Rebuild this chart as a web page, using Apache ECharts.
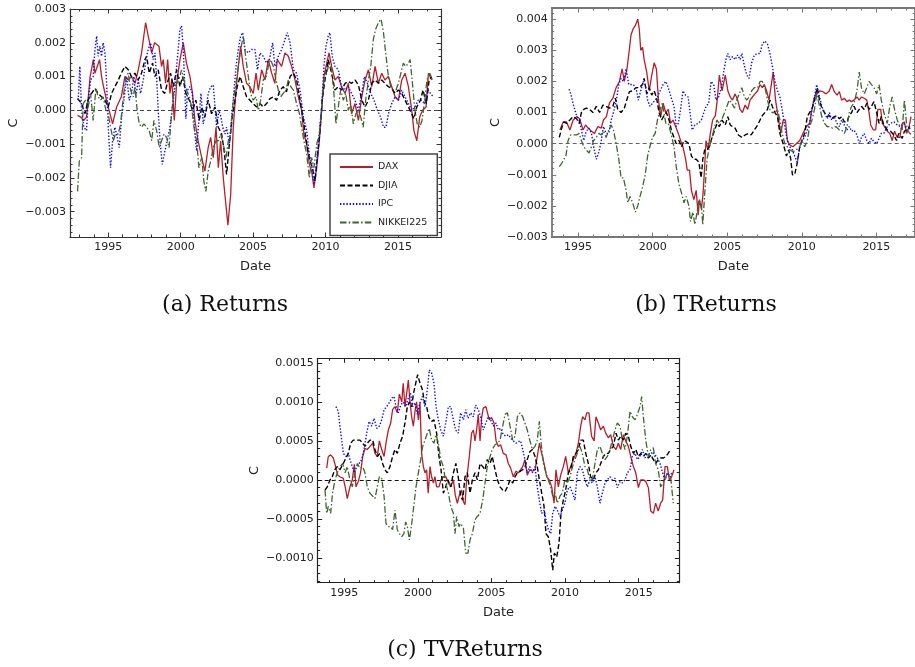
<!DOCTYPE html>
<html>
<head>
<meta charset="utf-8">
<script src="https://cdn.jsdelivr.net/npm/echarts@6/dist/echarts.min.js"></script>
<style>
html,body{margin:0;padding:0;background:#fff;}
#chart{width:915px;height:667px;}
</style>
</head>
<body>
<div id="chart"></div>
<script>
// ---------- DATA ----------
const seriesNames = ['DAX', 'DJIA', 'IPC', 'NIKKEI225'];
const xMajorTicks = [1995, 2000, 2005, 2010, 2015];
const yTicksA = [-0.003, -0.002, -0.001, 0, 0.001, 0.002, 0.003];
const yTicksB = [-0.003, -0.002, -0.001, 0, 0.001, 0.002, 0.003, 0.004];
const yTicksC = [-0.001, -0.0005, 0, 0.0005, 0.001, 0.0015];
const captions = ['(a) Returns', '(b) TReturns', '(c) TVReturns'];

// (a) Returns
const aDAX = [[1992.88,-0.00015],[1993.1,-0.0002],[1993.3,-0.0003],[1993.5,-0.0002],[1993.75,0.001],[1993.97,0.0015],[1994.08,0.0011],[1994.4,0.0015],[1994.54,0.001],[1994.65,0.00075],[1994.88,0.0003],[1995.3,-0.0004],[1995.58,0.0001],[1995.9,0.0004],[1996.15,0.001],[1996.38,0.0009],[1996.6,0.001],[1996.85,0.0008],[1997.07,0.0012],[1997.3,0.0017],[1997.58,0.0026],[1997.76,0.0022],[1998.0,0.0017],[1998.2,0.002],[1998.5,0.0019],[1998.68,0.0013],[1998.8,0.0015],[1998.96,0.0008],[1999.1,0.0015],[1999.26,0.0005],[1999.38,0.0009],[1999.56,-0.0003],[1999.72,0.0008],[1999.95,0.0015],[2000.18,0.002],[2000.4,0.0014],[2000.64,0.001],[2000.82,0.0005],[2000.98,-0.0003],[2001.2,-0.0009],[2001.45,-0.0014],[2001.67,-0.0018],[2001.9,-0.0011],[2002.07,-0.0008],[2002.25,-0.0014],[2002.44,-0.0005],[2002.6,-0.0017],[2002.76,-0.0009],[2002.94,-0.002],[2003.1,-0.0027],[2003.26,-0.0034],[2003.45,-0.0025],[2003.63,-0.0005],[2003.82,0.0006],[2003.98,0.0013],[2004.14,0.0019],[2004.32,0.0013],[2004.55,0.0008],[2004.78,0.0007],[2005.01,0.0005],[2005.2,0.0011],[2005.36,0.0006],[2005.59,0.0012],[2005.82,0.0009],[2006.05,0.0015],[2006.28,0.0011],[2006.5,0.0008],[2006.67,0.0015],[2006.97,0.0013],[2007.2,0.0017],[2007.43,0.0016],[2007.66,0.0013],[2007.89,0.0009],[2008.12,0.0004],[2008.35,0.0],[2008.5,-0.0007],[2008.7,-0.001],[2008.88,-0.0016],[2009.04,-0.0018],[2009.2,-0.0023],[2009.39,-0.0017],[2009.57,-0.0009],[2009.73,0.0],[2009.89,0.001],[2010.08,0.0014],[2010.24,0.0017],[2010.42,0.0013],[2010.65,0.0009],[2010.88,0.001],[2011.1,0.0007],[2011.35,0.0005],[2011.57,0.0008],[2011.8,-0.0001],[2012.03,0.0002],[2012.27,-0.0003],[2012.5,0.0004],[2012.73,0.0009],[2012.96,0.0012],[2013.19,0.0007],[2013.42,0.0013],[2013.65,0.0008],[2013.88,0.0011],[2014.1,0.0009],[2014.34,0.001],[2014.57,0.0007],[2014.8,0.0004],[2015.03,0.0003],[2015.26,0.0009],[2015.49,0.0011],[2015.72,0.0007],[2015.95,0.0],[2016.1,-0.0006],[2016.3,-0.0009],[2016.5,-0.0002],[2016.7,0.0],[2016.94,0.0001],[2017.1,0.0011],[2017.33,0.0009]];
const aDJIA = [[1992.88,0.00035],[1993.16,0.0002],[1993.4,-0.0001],[1993.6,0.0003],[1993.85,0.0005],[1994.08,0.00065],[1994.3,0.0005],[1994.54,0.0004],[1994.77,0.0003],[1995.0,0.0001],[1995.23,0.0005],[1995.46,0.0007],[1995.7,0.0009],[1995.9,0.0011],[1996.15,0.0013],[1996.38,0.0012],[1996.6,0.001],[1996.84,0.0011],[1997.07,0.0009],[1997.3,0.0011],[1997.53,0.0015],[1997.65,0.0016],[1997.83,0.0011],[1998.06,0.0014],[1998.22,0.001],[1998.45,0.0012],[1998.68,0.0006],[1998.9,0.0005],[1999.14,0.0009],[1999.3,0.0011],[1999.5,0.0007],[1999.72,0.0012],[1999.95,0.0007],[2000.13,0.001],[2000.36,0.0005],[2000.6,0.0003],[2000.82,0.0],[2001.05,0.0003],[2001.28,-0.0003],[2001.45,0.0001],[2001.67,-0.0002],[2001.9,0.0003],[2002.13,-0.0001],[2002.37,0.0001],[2002.6,-0.0005],[2002.83,-0.0007],[2003.0,-0.0012],[2003.17,-0.0019],[2003.36,-0.001],[2003.56,-0.0002],[2003.75,0.0003],[2003.9,0.0007],[2004.1,0.001],[2004.32,0.0007],[2004.55,0.0004],[2004.78,0.0003],[2005.0,0.0002],[2005.24,0.0001],[2005.47,0.0002],[2005.7,0.0001],[2005.93,0.0002],[2006.16,0.00035],[2006.4,0.0004],[2006.62,0.0003],[2006.85,0.0006],[2007.08,0.0007],[2007.3,0.00055],[2007.55,0.001],[2007.78,0.0011],[2008.0,0.0009],[2008.24,0.0003],[2008.47,-0.0003],[2008.7,-0.001],[2008.93,-0.0015],[2009.1,-0.0017],[2009.27,-0.0021],[2009.43,-0.0014],[2009.6,-0.0007],[2009.77,0.0003],[2009.96,0.0009],[2010.19,0.0015],[2010.42,0.0011],[2010.65,0.0006],[2010.88,0.0007],[2011.1,0.0006],[2011.35,0.0008],[2011.57,0.00085],[2011.8,0.0008],[2012.03,0.0009],[2012.27,0.00075],[2012.5,0.0003],[2012.73,0.0001],[2012.96,0.0003],[2013.19,0.0008],[2013.42,0.0009],[2013.65,0.0008],[2013.88,0.0009],[2014.1,0.0008],[2014.34,0.0007],[2014.57,0.00065],[2014.8,0.0005],[2015.03,0.0006],[2015.26,0.0005],[2015.49,0.0003],[2015.72,0.0001],[2015.95,-0.0001],[2016.1,-0.00025],[2016.3,0.0001],[2016.55,0.0003],[2016.73,0.0006],[2016.96,0.0002],[2017.15,0.0009],[2017.33,0.001]];
const aIPC = [[1992.93,0.0003],[1993.04,0.0013],[1993.16,0.0],[1993.32,-0.0005],[1993.5,-0.0006],[1993.62,0.0003],[1993.78,0.0009],[1993.96,0.001],[1994.08,0.0018],[1994.2,0.0022],[1994.3,0.0016],[1994.42,0.0019],[1994.54,0.0016],[1994.65,0.002],[1994.77,0.0017],[1994.88,0.0009],[1995.0,-0.0005],[1995.16,-0.0017],[1995.3,-0.0009],[1995.46,-0.0005],[1995.62,-0.0008],[1995.76,-0.0011],[1995.92,-0.0002],[1996.08,0.0003],[1996.27,0.001],[1996.45,0.0003],[1996.6,0.0005],[1996.77,0.001],[1996.91,0.0004],[1997.07,0.0009],[1997.23,0.0005],[1997.42,0.0009],[1997.6,0.0015],[1997.76,0.0018],[1997.92,0.002],[1998.1,0.0015],[1998.22,0.0017],[1998.34,0.001],[1998.45,0.0],[1998.57,-0.0009],[1998.73,-0.0016],[1998.91,-0.0012],[1999.07,-0.0009],[1999.26,-0.0005],[1999.44,0.0001],[1999.6,0.0007],[1999.72,0.0013],[1999.83,0.0018],[1999.95,0.0024],[2000.06,0.0025],[2000.18,0.0018],[2000.3,0.0005],[2000.36,-0.00025],[2000.48,0.0006],[2000.64,0.0007],[2000.8,0.0005],[2000.94,-0.0005],[2001.1,-0.0012],[2001.22,-0.0005],[2001.4,0.0005],[2001.56,-0.0004],[2001.74,0.0],[2001.9,0.0005],[2002.07,0.0007],[2002.25,0.00075],[2002.37,0.0001],[2002.48,-0.0005],[2002.64,0.0],[2002.78,-0.0002],[2002.9,-0.0005],[2003.06,-0.0007],[2003.17,-0.0005],[2003.36,-0.001],[2003.52,-0.0002],[2003.63,0.0003],[2003.82,0.0013],[2003.98,0.0018],[2004.14,0.0022],[2004.28,0.0023],[2004.44,0.0018],[2004.67,0.0017],[2004.9,0.0018],[2005.13,0.0018],[2005.3,0.0012],[2005.47,0.0017],[2005.7,0.0016],[2005.93,0.0014],[2006.12,0.0015],[2006.35,0.002],[2006.5,0.0013],[2006.74,0.0016],[2006.97,0.0018],[2007.2,0.0021],[2007.36,0.0023],[2007.55,0.002],[2007.78,0.0012],[2008.0,0.0011],[2008.24,0.0006],[2008.47,-0.0002],[2008.7,-0.0006],[2008.88,-0.0013],[2009.04,-0.0016],[2009.2,-0.0022],[2009.39,-0.0015],[2009.57,-0.0007],[2009.73,0.0001],[2009.89,0.0013],[2010.03,0.0019],[2010.19,0.0022],[2010.3,0.0023],[2010.46,0.0016],[2010.65,0.0013],[2010.88,0.0012],[2011.1,0.0007],[2011.35,0.0006],[2011.57,0.0007],[2011.8,0.0005],[2012.03,0.0003],[2012.27,0.0],[2012.5,0.0005],[2012.68,0.001],[2012.89,0.0008],[2013.12,0.0005],[2013.35,0.0003],[2013.58,0.0],[2013.8,-0.0002],[2014.0,-0.0005],[2014.17,-0.0005],[2014.34,-0.0001],[2014.57,0.0002],[2014.8,0.0004],[2015.03,0.0003],[2015.26,0.0006],[2015.49,0.0004],[2015.72,0.0002],[2015.95,0.0],[2016.17,0.0001],[2016.4,0.0003],[2016.62,0.0003],[2016.85,0.0002],[2017.08,0.0006],[2017.24,0.0005],[2017.44,0.0004]];
const aNIKKEI = [[1992.88,-0.0024],[1993.0,-0.0015],[1993.16,-0.0014],[1993.27,0.0002],[1993.43,0.0003],[1993.62,0.0001],[1993.78,0.0005],[1993.96,-0.0003],[1994.15,0.00065],[1994.3,0.0004],[1994.47,0.0003],[1994.65,0.0004],[1994.84,0.0],[1995.0,-0.0001],[1995.16,-0.0005],[1995.35,-0.0009],[1995.5,-0.0007],[1995.7,-0.0007],[1995.85,-0.0004],[1996.04,0.0004],[1996.22,0.001],[1996.38,0.0011],[1996.54,0.0006],[1996.73,0.0004],[1996.84,0.0007],[1997.0,0.0],[1997.14,-0.0004],[1997.3,-0.0005],[1997.46,-0.0004],[1997.65,-0.0005],[1997.83,-0.0006],[1998.0,-0.0009],[1998.15,-0.0003],[1998.34,-0.0006],[1998.52,-0.0011],[1998.68,-0.0009],[1998.85,-0.0007],[1999.03,-0.0008],[1999.2,-0.0011],[1999.37,-0.0001],[1999.53,0.0006],[1999.72,0.0008],[1999.88,0.0009],[2000.06,0.0012],[2000.23,0.0009],[2000.4,0.0006],[2000.6,0.0004],[2000.75,0.0001],[2000.92,-0.0005],[2001.1,-0.0009],[2001.26,-0.0017],[2001.45,-0.0014],[2001.6,-0.0021],[2001.74,-0.0024],[2001.9,-0.0018],[2002.07,-0.0015],[2002.25,-0.0011],[2002.44,-0.0009],[2002.6,-0.0009],[2002.76,-0.0007],[2002.94,-0.001],[2003.13,-0.0014],[2003.29,-0.0009],[2003.45,-0.0007],[2003.63,0.0003],[2003.82,0.0008],[2003.98,0.0013],[2004.14,0.0018],[2004.32,0.0022],[2004.51,0.0015],[2004.67,0.001],[2004.83,0.0005],[2005.0,0.0003],[2005.2,0.0004],[2005.36,0.0],[2005.52,0.0003],[2005.7,0.0009],[2005.9,0.001],[2006.05,0.0013],[2006.2,0.0015],[2006.4,0.0013],[2006.58,0.0009],[2006.74,0.0006],[2006.9,0.0004],[2007.08,0.0005],[2007.27,0.0006],[2007.43,0.0009],[2007.6,0.0007],[2007.78,0.0006],[2008.0,0.0002],[2008.2,-0.0001],[2008.35,-0.0005],[2008.5,-0.0009],[2008.7,-0.0013],[2008.88,-0.002],[2009.04,-0.0014],[2009.2,-0.0017],[2009.39,-0.001],[2009.57,-0.0007],[2009.73,0.0],[2009.89,0.0009],[2010.08,0.0011],[2010.24,0.0014],[2010.42,0.0012],[2010.58,0.0005],[2010.72,-0.0004],[2010.88,0.0001],[2011.04,0.0006],[2011.23,0.0003],[2011.39,0.0005],[2011.57,0.0],[2011.73,0.0002],[2011.92,-0.0004],[2012.1,-0.0001],[2012.27,0.0],[2012.43,-0.0002],[2012.6,-0.0005],[2012.77,0.0003],[2012.96,0.0009],[2013.12,0.0013],[2013.3,0.0021],[2013.46,0.0024],[2013.65,0.0026],[2013.83,0.0027],[2014.0,0.0023],[2014.15,0.0017],[2014.34,0.001],[2014.5,0.0007],[2014.68,0.0006],[2014.86,0.0006],[2015.03,0.0008],[2015.2,0.0011],[2015.37,0.0014],[2015.54,0.0013],[2015.72,0.0014],[2015.84,0.0015],[2016.0,0.0008],[2016.17,0.0],[2016.33,-0.0004],[2016.5,-0.0005],[2016.66,-0.0003],[2016.85,0.0003],[2017.0,0.0009],[2017.2,0.0011],[2017.38,0.0009]];

// (b) TReturns
const bDAX = [[1993.78,0.00044],[1994.0,0.0007],[1994.22,0.0007],[1994.45,0.00044],[1994.67,0.00076],[1994.9,0.00087],[1995.11,0.0008],[1995.33,0.00044],[1995.5,0.0006],[1995.67,0.0005],[1995.9,0.0004],[1996.1,0.00033],[1996.33,0.00055],[1996.55,0.0005],[1996.7,0.00076],[1996.9,0.00087],[1997.1,0.0013],[1997.33,0.00146],[1997.55,0.0018],[1997.77,0.002],[1997.95,0.0024],[1998.1,0.002],[1998.28,0.0024],[1998.43,0.003],[1998.55,0.0035],[1998.7,0.0037],[1998.84,0.0038],[1999.0,0.004],[1999.1,0.0037],[1999.2,0.003],[1999.32,0.0031],[1999.43,0.0027],[1999.6,0.0023],[1999.77,0.0017],[1999.94,0.0022],[2000.1,0.0026],[2000.25,0.0024],[2000.39,0.0014],[2000.54,0.00087],[2000.7,0.0013],[2000.88,0.001],[2001.05,0.0011],[2001.2,0.00065],[2001.36,0.00076],[2001.54,0.00055],[2001.72,0.00033],[2001.87,0.0001],[2002.03,-0.0001],[2002.2,-0.00047],[2002.32,-0.00085],[2002.47,-0.00085],[2002.6,-0.0015],[2002.76,-0.0018],[2002.92,-0.0015],[2003.05,-0.0023],[2003.14,-0.0018],[2003.27,-0.0021],[2003.38,-0.0016],[2003.49,-0.0007],[2003.58,0.0001],[2003.71,-0.0002],[2003.87,0.00033],[2004.02,0.00076],[2004.2,0.0009],[2004.31,0.0013],[2004.47,0.0022],[2004.65,0.0017],[2004.87,0.0022],[2005.04,0.0017],[2005.2,0.0015],[2005.35,0.0014],[2005.53,0.0016],[2005.7,0.0014],[2005.86,0.0011],[2006.02,0.001],[2006.2,0.00124],[2006.37,0.0011],[2006.53,0.0014],[2006.69,0.0015],[2006.86,0.0016],[2007.04,0.0017],[2007.2,0.0019],[2007.35,0.0018],[2007.48,0.0019],[2007.64,0.0017],[2007.8,0.0014],[2007.93,0.0014],[2008.08,0.0023],[2008.24,0.0014],[2008.41,0.00087],[2008.59,0.00033],[2008.75,0.00076],[2008.9,0.00076],[2009.03,0.0001],[2009.19,-0.00004],[2009.41,-0.0001],[2009.63,0.0],[2009.86,0.0001],[2010.08,0.00033],[2010.3,0.00055],[2010.52,0.00065],[2010.68,0.0011],[2010.85,0.0015],[2011.03,0.0016],[2011.19,0.0017],[2011.41,0.00167],[2011.63,0.0016],[2011.85,0.0017],[2012.0,0.0019],[2012.18,0.00167],[2012.36,0.00156],[2012.52,0.00167],[2012.67,0.0014],[2012.85,0.00146],[2013.03,0.00135],[2013.18,0.0014],[2013.34,0.00135],[2013.5,0.0014],[2013.7,0.0015],[2013.85,0.0014],[2014.0,0.0015],[2014.18,0.00146],[2014.36,0.0014],[2014.51,0.001],[2014.62,0.0006],[2014.8,0.00044],[2014.95,0.00044],[2015.1,0.0011],[2015.29,0.0011],[2015.4,0.00065],[2015.55,0.00055],[2015.73,0.0004],[2015.9,0.00033],[2016.06,0.0001],[2016.22,0.0004],[2016.4,0.0002],[2016.57,0.0002],[2016.73,0.00065],[2016.88,0.0007],[2017.02,0.00033],[2017.17,0.0005],[2017.33,0.00087]];
const bDJIA = [[1993.74,0.0002],[1993.9,0.0005],[1994.05,0.0007],[1994.22,0.00065],[1994.45,0.00076],[1994.67,0.00087],[1994.9,0.0008],[1995.07,0.00065],[1995.22,0.001],[1995.38,0.0011],[1995.55,0.00114],[1995.78,0.0011],[1996.0,0.001],[1996.22,0.0012],[1996.44,0.001],[1996.66,0.00124],[1996.88,0.0012],[1997.1,0.00114],[1997.33,0.0012],[1997.5,0.00146],[1997.66,0.0011],[1997.88,0.001],[1998.1,0.00114],[1998.26,0.0014],[1998.44,0.00167],[1998.66,0.0017],[1998.88,0.0018],[1999.1,0.0018],[1999.32,0.0019],[1999.43,0.0021],[1999.6,0.0016],[1999.77,0.0018],[1999.94,0.00156],[2000.1,0.0017],[2000.25,0.0015],[2000.43,0.001],[2000.6,0.00076],[2000.76,0.0009],[2000.92,0.001],[2001.1,0.00076],[2001.25,0.00044],[2001.43,0.0002],[2001.58,0.0],[2001.76,0.0001],[2001.94,-0.0001],[2002.1,0.0001],[2002.27,0.00006],[2002.43,0.0],[2002.6,-0.0004],[2002.76,-0.0005],[2002.92,-0.0005],[2003.1,-0.0006],[2003.25,-0.0011],[2003.36,-0.0005],[2003.49,-0.0002],[2003.65,-0.0002],[2003.8,-0.0001],[2003.98,0.0002],[2004.16,0.00044],[2004.31,0.00065],[2004.47,0.00055],[2004.65,0.00076],[2004.87,0.0006],[2005.04,0.00087],[2005.2,0.0006],[2005.35,0.00055],[2005.53,0.0005],[2005.75,0.00028],[2005.98,0.0002],[2006.2,0.00028],[2006.42,0.00033],[2006.6,0.00028],[2006.82,0.00044],[2007.04,0.0006],[2007.2,0.00076],[2007.35,0.0009],[2007.53,0.001],[2007.7,0.0011],[2007.86,0.0014],[2008.02,0.0012],[2008.2,0.001],[2008.37,0.00087],[2008.53,0.00033],[2008.68,0.0001],[2008.81,-0.0001],[2008.97,-0.0004],[2009.12,-0.0002],[2009.26,-0.0005],[2009.37,-0.001],[2009.52,-0.001],[2009.7,-0.0006],[2009.86,-0.0001],[2010.01,0.0001],[2010.19,0.00033],[2010.37,0.00087],[2010.52,0.001],[2010.68,0.0011],[2010.85,0.0014],[2011.03,0.0018],[2011.19,0.0014],[2011.34,0.00114],[2011.52,0.001],[2011.7,0.00087],[2011.85,0.0009],[2012.0,0.0008],[2012.18,0.00087],[2012.36,0.0009],[2012.52,0.0008],[2012.67,0.00087],[2012.85,0.0007],[2013.03,0.0007],[2013.18,0.0009],[2013.34,0.001],[2013.5,0.0012],[2013.7,0.001],[2013.85,0.0011],[2014.0,0.0012],[2014.18,0.0011],[2014.36,0.0013],[2014.51,0.0011],[2014.67,0.0012],[2014.84,0.00135],[2015.02,0.001],[2015.18,0.00065],[2015.33,0.00087],[2015.5,0.0006],[2015.73,0.00044],[2015.95,0.0004],[2016.18,0.00028],[2016.35,0.0001],[2016.5,0.00033],[2016.73,0.00017],[2016.88,0.0004],[2017.06,0.00044],[2017.24,0.00055]];
const bIPC = [[1994.4,0.00175],[1994.56,0.0015],[1994.71,0.0012],[1994.9,0.0009],[1995.07,0.00076],[1995.22,0.00044],[1995.38,0.0001],[1995.55,0.0004],[1995.73,0.0005],[1995.9,0.00033],[1996.04,-0.0001],[1996.22,-0.0005],[1996.4,-0.00026],[1996.55,0.0001],[1996.7,0.00055],[1996.88,0.00033],[1997.06,0.00033],[1997.22,0.00076],[1997.37,0.001],[1997.55,0.00135],[1997.73,0.0019],[1997.88,0.0021],[1998.04,0.002],[1998.22,0.0024],[1998.4,0.0019],[1998.55,0.0019],[1998.7,0.0019],[1998.88,0.0018],[1999.04,0.0014],[1999.2,0.0017],[1999.37,0.002],[1999.5,0.0019],[1999.66,0.0014],[1999.81,0.0012],[1999.99,0.0013],[2000.17,0.0014],[2000.32,0.0015],[2000.5,0.0017],[2000.7,0.0019],[2000.88,0.002],[2001.05,0.0018],[2001.23,0.0015],[2001.43,0.0012],[2001.58,0.00055],[2001.72,0.00065],[2001.87,0.0011],[2002.03,0.0017],[2002.2,0.00156],[2002.38,0.0015],[2002.54,0.00087],[2002.65,0.00044],[2002.83,0.0006],[2003.05,0.00065],[2003.27,0.00076],[2003.43,0.001],[2003.58,0.0012],[2003.76,0.0013],[2003.91,0.002],[2004.09,0.0019],[2004.25,0.0014],[2004.42,0.0015],[2004.6,0.0018],[2004.76,0.0023],[2004.91,0.0027],[2005.04,0.0029],[2005.2,0.0027],[2005.35,0.0028],[2005.53,0.0027],[2005.7,0.00285],[2005.86,0.0027],[2005.98,0.0029],[2006.15,0.0025],[2006.31,0.0022],[2006.46,0.0021],[2006.64,0.0026],[2006.82,0.00285],[2007.04,0.0029],[2007.2,0.0029],[2007.35,0.0032],[2007.53,0.0033],[2007.7,0.0032],[2007.86,0.0029],[2008.02,0.0025],[2008.2,0.002],[2008.37,0.0017],[2008.53,0.0015],[2008.68,0.0011],[2008.86,0.00055],[2009.03,0.0001],[2009.19,-0.0001],[2009.37,-0.0002],[2009.52,-0.0004],[2009.7,-0.0006],[2009.86,-0.0001],[2010.01,0.0001],[2010.19,0.0002],[2010.37,0.00044],[2010.52,0.00065],[2010.68,0.0011],[2010.85,0.0015],[2011.0,0.0019],[2011.19,0.0015],[2011.34,0.0012],[2011.52,0.001],[2011.7,0.0008],[2011.85,0.001],[2012.0,0.00076],[2012.18,0.00087],[2012.36,0.00065],[2012.52,0.00055],[2012.67,0.00076],[2012.85,0.0006],[2013.03,0.00044],[2013.18,0.00055],[2013.34,0.0004],[2013.5,0.00044],[2013.7,0.00028],[2013.85,0.0],[2014.0,0.0002],[2014.18,0.00033],[2014.36,0.0001],[2014.51,0.0],[2014.67,0.00017],[2014.84,0.00006],[2015.02,0.0],[2015.18,0.00017],[2015.33,0.00033],[2015.5,0.00033],[2015.73,0.00055],[2015.95,0.00065],[2016.18,0.0007],[2016.4,0.0006],[2016.62,0.00055],[2016.84,0.00065],[2017.06,0.00044],[2017.28,0.0005]];
const bNIKKEI = [[1993.74,-0.00074],[1993.9,-0.00063],[1994.05,-0.0005],[1994.18,-0.0004],[1994.33,0.0001],[1994.5,0.00028],[1994.67,0.00028],[1994.9,0.00028],[1995.07,0.00033],[1995.22,0.0001],[1995.38,-0.0001],[1995.55,-0.0002],[1995.73,-0.0003],[1995.9,-0.0001],[1996.04,0.0001],[1996.22,0.0002],[1996.4,0.00033],[1996.55,0.00028],[1996.7,0.0004],[1996.88,0.0002],[1997.06,0.00044],[1997.22,0.0006],[1997.37,0.00044],[1997.55,0.0],[1997.73,-0.0005],[1997.88,-0.0011],[1998.04,-0.0011],[1998.22,-0.0015],[1998.33,-0.0019],[1998.48,-0.0017],[1998.66,-0.0019],[1998.84,-0.0022],[1999.0,-0.002],[1999.15,-0.0017],[1999.32,-0.0014],[1999.5,-0.001],[1999.66,-0.0004],[1999.81,-0.0001],[1999.99,0.0002],[2000.17,0.00033],[2000.32,0.00076],[2000.5,0.0011],[2000.65,0.0013],[2000.76,0.001],[2000.88,0.00065],[2001.05,0.00065],[2001.23,0.00033],[2001.43,-0.0001],[2001.58,-0.00074],[2001.76,-0.0013],[2001.94,-0.0016],[2002.1,-0.0019],[2002.25,-0.0017],[2002.43,-0.002],[2002.54,-0.0025],[2002.7,-0.0022],[2002.83,-0.0026],[2002.98,-0.0022],[2003.1,-0.0018],[2003.27,-0.002],[2003.36,-0.0026],[2003.49,-0.0016],[2003.65,-0.0005],[2003.8,-0.0001],[2003.98,0.0002],[2004.16,0.00055],[2004.31,0.00076],[2004.47,0.00065],[2004.65,0.0008],[2004.82,0.001],[2004.98,0.0012],[2005.13,0.0014],[2005.31,0.0013],[2005.49,0.00114],[2005.64,0.0014],[2005.8,0.0016],[2005.98,0.0018],[2006.15,0.0015],[2006.31,0.0014],[2006.46,0.0015],[2006.64,0.0017],[2006.82,0.0018],[2007.04,0.0018],[2007.2,0.002],[2007.35,0.002],[2007.53,0.0018],[2007.7,0.0014],[2007.86,0.0011],[2008.02,0.001],[2008.2,0.001],[2008.37,0.0011],[2008.53,0.00076],[2008.68,0.00033],[2008.86,0.0],[2009.03,-0.0001],[2009.19,-0.0002],[2009.41,-0.00026],[2009.63,-0.0002],[2009.86,-0.0001],[2010.01,0.0001],[2010.19,-0.0001],[2010.37,0.0001],[2010.52,0.00055],[2010.68,0.00076],[2010.85,0.0011],[2011.0,0.0016],[2011.19,0.0012],[2011.34,0.00087],[2011.52,0.00065],[2011.7,0.00055],[2011.85,0.00055],[2012.06,0.0005],[2012.28,0.00055],[2012.52,0.00044],[2012.67,0.00044],[2012.85,0.00033],[2013.03,0.00055],[2013.18,0.001],[2013.34,0.0012],[2013.5,0.0013],[2013.7,0.0017],[2013.85,0.0023],[2014.0,0.0018],[2014.18,0.0016],[2014.36,0.0018],[2014.51,0.002],[2014.67,0.0019],[2014.84,0.0018],[2015.02,0.0016],[2015.18,0.0019],[2015.33,0.0014],[2015.5,0.001],[2015.73,0.00065],[2015.9,0.0012],[2016.06,0.0015],[2016.22,0.0011],[2016.4,0.00076],[2016.57,0.00055],[2016.73,0.00044],[2016.88,0.0014],[2017.06,0.00044],[2017.24,0.00033],[2017.4,0.00028]];

// (c) TVReturns
const cDAX = [[1993.8,0.00015],[1993.91,0.0003],[1994.07,0.00032],[1994.25,0.00028],[1994.41,0.00017],[1994.55,0.00006],[1994.7,0.00004],[1994.93,0.00002],[1995.07,-0.0001],[1995.2,-0.00024],[1995.38,-0.00009],[1995.54,0.0],[1995.68,0.0002],[1995.79,-0.00009],[1995.95,-0.00002],[1996.1,0.00009],[1996.25,0.0003],[1996.4,0.0004],[1996.56,0.00039],[1996.74,0.00043],[1996.93,0.00047],[1997.08,0.00034],[1997.24,0.0003],[1997.38,0.0005],[1997.54,0.00039],[1997.7,0.0003],[1997.83,0.00047],[1997.99,0.00064],[1998.15,0.00073],[1998.28,0.0009],[1998.44,0.00094],[1998.6,0.00086],[1998.74,0.0011],[1998.9,0.001],[1999.0,0.00124],[1999.12,0.00094],[1999.24,0.00094],[1999.35,0.00128],[1999.46,0.001],[1999.58,0.0008],[1999.69,0.00069],[1999.8,0.00088],[1999.91,0.001],[2000.03,0.00077],[2000.14,0.00099],[2000.25,0.00034],[2000.37,0.00017],[2000.48,0.00009],[2000.59,0.00013],[2000.7,-0.00017],[2000.82,0.00017],[2000.93,0.00004],[2001.05,-0.00004],[2001.16,0.00004],[2001.27,-0.00009],[2001.43,-0.00009],[2001.57,0.0],[2001.73,0.00004],[2001.9,0.00004],[2002.07,-0.00004],[2002.23,-0.00009],[2002.41,0.0],[2002.54,-0.0002],[2002.68,-0.0003],[2002.81,-0.0002],[2002.97,-0.00013],[2003.09,-0.00028],[2003.2,-0.00032],[2003.31,0.0],[2003.49,0.0003],[2003.65,0.0006],[2003.77,0.00064],[2003.88,0.0005],[2003.99,0.00064],[2004.1,0.00084],[2004.22,0.0005],[2004.33,0.0008],[2004.44,0.00092],[2004.62,0.00094],[2004.71,0.00096],[2004.85,0.00077],[2005.0,0.0008],[2005.17,0.00073],[2005.31,0.0005],[2005.46,0.00043],[2005.62,0.00045],[2005.8,0.00034],[2005.99,0.00032],[2006.14,0.00021],[2006.3,0.00015],[2006.48,0.00004],[2006.66,0.00011],[2006.82,0.00009],[2006.98,0.00013],[2007.12,0.00017],[2007.27,0.00026],[2007.43,0.00006],[2007.6,0.00013],[2007.78,0.00011],[2007.96,0.00013],[2008.11,0.0003],[2008.25,0.00047],[2008.41,0.00034],[2008.57,0.00021],[2008.75,0.00004],[2008.93,0.0],[2009.09,-0.00009],[2009.25,-0.0003],[2009.38,0.00013],[2009.54,-0.00009],[2009.7,0.00006],[2009.88,0.00017],[2010.04,0.0003],[2010.22,0.00009],[2010.38,0.00017],[2010.56,0.00026],[2010.74,0.00034],[2010.9,0.00047],[2011.06,0.00069],[2011.19,0.00081],[2011.35,0.00077],[2011.47,0.00086],[2011.62,0.00086],[2011.8,0.00056],[2011.97,0.0005],[2012.1,0.00081],[2012.26,0.00073],[2012.42,0.00064],[2012.6,0.00069],[2012.76,0.0006],[2012.94,0.00054],[2013.1,0.00058],[2013.28,0.00043],[2013.46,0.00039],[2013.62,0.00047],[2013.78,0.00039],[2013.96,0.00058],[2014.12,0.0005],[2014.3,0.00043],[2014.46,0.0003],[2014.64,0.00017],[2014.8,0.00009],[2014.98,-0.0001],[2015.14,0.0],[2015.32,0.0],[2015.48,-0.00002],[2015.66,-0.0001],[2015.82,-0.0004],[2016.0,-0.00043],[2016.15,-0.0003],[2016.33,-0.0004],[2016.49,-0.0003],[2016.63,-0.00026],[2016.79,0.00017],[2016.95,0.00017],[2017.08,0.0],[2017.24,0.00004],[2017.4,0.00013]];
const cDJIA = [[1993.69,-0.00013],[1993.84,-0.00009],[1994.03,0.0],[1994.18,0.00004],[1994.34,0.00013],[1994.52,0.00017],[1994.7,0.00013],[1994.93,0.00021],[1995.11,0.00028],[1995.27,0.00034],[1995.43,0.00047],[1995.61,0.00051],[1995.84,0.00051],[1996.06,0.00051],[1996.25,0.00047],[1996.4,0.00043],[1996.56,0.00047],[1996.74,0.00051],[1996.93,0.00051],[1997.08,0.00039],[1997.24,0.0003],[1997.42,0.00034],[1997.6,0.00021],[1997.76,0.00013],[1997.92,0.00009],[1998.1,0.00017],[1998.28,0.0003],[1998.44,0.00039],[1998.6,0.00034],[1998.78,0.00047],[1998.96,0.00056],[1999.12,0.00073],[1999.28,0.00094],[1999.42,0.001],[1999.58,0.00094],[1999.69,0.0011],[1999.85,0.00124],[1999.98,0.00135],[2000.14,0.00124],[2000.3,0.00116],[2000.44,0.001],[2000.59,0.00094],[2000.75,0.0008],[2000.93,0.00075],[2001.09,0.00077],[2001.27,0.0006],[2001.43,0.0003],[2001.57,0.00013],[2001.73,-0.00017],[2001.89,-0.00009],[2002.04,0.0],[2002.23,-0.00009],[2002.41,0.00009],[2002.58,0.00021],[2002.74,0.00004],[2002.9,-0.00021],[2003.04,-0.00026],[2003.2,0.00004],[2003.36,0.00009],[2003.54,-0.00017],[2003.7,0.0],[2003.88,0.00009],[2004.04,0.0],[2004.22,0.00021],[2004.4,0.00017],[2004.56,0.00013],[2004.71,0.00026],[2004.9,0.00021],[2005.05,0.0003],[2005.24,0.00013],[2005.4,0.0],[2005.58,-0.00009],[2005.76,-0.00013],[2005.92,-0.00015],[2006.08,-0.00009],[2006.26,0.0],[2006.44,-0.00004],[2006.6,0.00004],[2006.76,0.00009],[2006.94,0.00011],[2007.12,0.00013],[2007.27,0.00017],[2007.43,0.00026],[2007.6,0.00036],[2007.78,0.00039],[2007.96,0.0003],[2008.11,0.00017],[2008.25,0.0],[2008.41,-0.00017],[2008.57,-0.00034],[2008.7,-0.00069],[2008.86,-0.00073],[2009.02,-0.0009],[2009.16,-0.00116],[2009.27,-0.00094],[2009.43,-0.00099],[2009.59,-0.00081],[2009.72,-0.00043],[2009.88,-0.00026],[2010.04,-0.00013],[2010.22,0.00009],[2010.38,0.00013],[2010.56,0.0003],[2010.74,0.00034],[2010.9,0.00039],[2011.06,0.00051],[2011.24,0.00051],[2011.4,0.00034],[2011.58,0.00021],[2011.73,0.00004],[2011.91,0.0],[2012.1,0.00009],[2012.26,0.00013],[2012.42,0.00021],[2012.6,0.0003],[2012.76,0.00034],[2012.94,0.00034],[2013.1,0.00039],[2013.28,0.00043],[2013.46,0.0006],[2013.62,0.00051],[2013.78,0.00056],[2013.96,0.00051],[2014.12,0.0006],[2014.3,0.00056],[2014.46,0.00043],[2014.64,0.00034],[2014.8,0.00039],[2014.98,0.0003],[2015.14,0.00034],[2015.32,0.0003],[2015.48,0.00034],[2015.66,0.00028],[2015.82,0.00032],[2016.0,0.00026],[2016.15,0.00021],[2016.33,0.00026],[2016.49,0.00028],[2016.66,0.00028],[2016.85,0.0003],[2017.0,0.00034],[2017.17,0.00039]];
const cIPC = [[1994.43,0.00094],[1994.59,0.00088],[1994.7,0.00069],[1994.82,0.00051],[1994.93,0.00034],[1995.11,0.0003],[1995.27,0.00034],[1995.38,0.00026],[1995.54,0.00017],[1995.68,0.00009],[1995.84,0.00017],[1996.0,0.00021],[1996.18,0.00026],[1996.34,0.00039],[1996.52,0.0006],[1996.68,0.00075],[1996.86,0.00069],[1997.02,0.00079],[1997.2,0.00066],[1997.38,0.00069],[1997.54,0.00077],[1997.7,0.0009],[1997.88,0.00094],[1998.06,0.00099],[1998.22,0.00105],[1998.37,0.00107],[1998.51,0.00094],[1998.67,0.00086],[1998.83,0.00096],[1999.0,0.001],[1999.17,0.00094],[1999.35,0.00105],[1999.5,0.00111],[1999.64,0.00094],[1999.8,0.00099],[1999.96,0.00084],[2000.14,0.00099],[2000.3,0.00107],[2000.48,0.00094],[2000.64,0.00116],[2000.77,0.00141],[2000.93,0.00137],[2001.09,0.00124],[2001.23,0.00094],[2001.39,0.00077],[2001.55,0.00064],[2001.73,0.00056],[2001.89,0.00073],[2002.07,0.00094],[2002.23,0.00094],[2002.41,0.00077],[2002.56,0.00064],[2002.74,0.0006],[2002.9,0.00086],[2003.09,0.00077],[2003.25,0.0009],[2003.4,0.00079],[2003.58,0.00086],[2003.77,0.00081],[2003.92,0.00096],[2004.1,0.0009],[2004.26,0.00081],[2004.44,0.00064],[2004.62,0.00073],[2004.78,0.00081],[2004.94,0.00077],[2005.12,0.00069],[2005.31,0.00073],[2005.46,0.00064],[2005.62,0.00066],[2005.8,0.00058],[2005.99,0.00056],[2006.14,0.00058],[2006.3,0.00054],[2006.48,0.0005],[2006.66,0.00047],[2006.82,0.00049],[2006.98,0.0005],[2007.12,0.00039],[2007.27,0.00026],[2007.43,0.00009],[2007.6,0.00017],[2007.78,0.00009],[2007.96,0.00017],[2008.11,-0.00009],[2008.25,-0.00026],[2008.41,-0.00043],[2008.57,-0.00039],[2008.7,-0.00051],[2008.86,-0.00064],[2009.02,-0.00069],[2009.16,-0.00043],[2009.32,-0.00034],[2009.47,-0.00039],[2009.65,-0.00047],[2009.81,-0.00039],[2009.99,-0.0003],[2010.15,-0.00013],[2010.33,-0.00009],[2010.51,-0.00017],[2010.67,-0.00026],[2010.83,0.00009],[2011.01,0.00017],[2011.17,0.00013],[2011.35,0.0],[2011.51,-0.00009],[2011.69,0.0],[2011.85,-0.00004],[2012.03,0.00004],[2012.19,-0.00009],[2012.37,-0.0003],[2012.53,-0.00017],[2012.71,-0.00004],[2012.87,0.0],[2013.05,0.00004],[2013.21,0.0],[2013.39,0.00002],[2013.55,-0.0001],[2013.73,-0.00002],[2013.89,-0.00004],[2014.07,0.0],[2014.23,0.00009],[2014.41,0.00013],[2014.57,0.0003],[2014.75,0.00034],[2014.91,0.00026],[2015.09,0.0003],[2015.25,0.00039],[2015.43,0.00028],[2015.59,0.00034],[2015.77,0.0003],[2015.93,0.00036],[2016.11,0.00032],[2016.27,0.00028],[2016.45,0.00021],[2016.63,0.00009],[2016.79,0.0],[2016.95,0.00009],[2017.13,0.00004],[2017.29,0.00011]];
const cNIKKEI = [[1993.69,-0.00013],[1993.8,-0.00043],[1993.91,-0.00034],[1994.07,-0.00043],[1994.2,-0.00017],[1994.37,0.0],[1994.52,0.00009],[1994.7,0.00017],[1994.89,0.00021],[1995.05,0.00009],[1995.2,0.00017],[1995.38,0.0],[1995.54,-0.00009],[1995.72,0.00009],[1995.88,0.00021],[1996.06,0.00015],[1996.25,0.00017],[1996.4,0.00009],[1996.56,-0.00009],[1996.74,-0.00017],[1996.93,-0.00021],[1997.08,-0.00024],[1997.24,-0.00009],[1997.38,0.00004],[1997.54,0.00002],[1997.7,-0.00021],[1997.83,-0.00056],[1997.99,-0.0006],[1998.15,-0.0006],[1998.28,-0.00064],[1998.44,-0.00039],[1998.6,-0.00064],[1998.74,-0.00069],[1998.9,-0.00073],[1999.05,-0.00069],[1999.17,-0.00054],[1999.28,-0.0006],[1999.42,-0.00077],[1999.58,-0.00056],[1999.74,-0.0003],[1999.87,-0.00009],[2000.03,0.00009],[2000.19,0.00026],[2000.32,0.00043],[2000.48,0.00051],[2000.64,0.0006],[2000.77,0.00066],[2000.93,0.00051],[2001.09,0.00047],[2001.23,0.00058],[2001.39,0.00047],[2001.55,0.00026],[2001.73,0.00017],[2001.89,-0.00004],[2002.07,-0.00017],[2002.23,-0.00034],[2002.41,-0.00043],[2002.52,-0.00069],[2002.63,-0.00047],[2002.79,-0.0006],[2002.9,-0.00056],[2003.09,-0.00062],[2003.25,-0.00094],[2003.4,-0.00094],[2003.54,-0.00077],[2003.7,-0.00069],[2003.88,-0.00051],[2004.04,-0.00047],[2004.22,-0.00043],[2004.4,-0.00026],[2004.56,-0.00004],[2004.71,0.00017],[2004.9,0.0003],[2005.05,0.00039],[2005.24,0.00045],[2005.4,0.00047],[2005.58,0.00051],[2005.76,0.00069],[2005.92,0.00084],[2006.08,0.00086],[2006.26,0.00069],[2006.44,0.00051],[2006.6,0.00056],[2006.76,0.00081],[2006.94,0.00086],[2007.12,0.00081],[2007.27,0.00073],[2007.43,0.00064],[2007.6,0.00051],[2007.78,0.00039],[2007.96,0.00043],[2008.11,0.00051],[2008.25,0.00075],[2008.37,0.00047],[2008.53,0.00021],[2008.7,0.00009],[2008.86,0.0],[2009.02,-0.00009],[2009.16,-0.00021],[2009.32,-0.00017],[2009.47,-0.0003],[2009.65,-0.00021],[2009.81,-0.00017],[2009.99,0.0],[2010.15,-0.00004],[2010.33,0.00004],[2010.51,0.00017],[2010.67,0.00026],[2010.83,0.00034],[2011.01,0.00043],[2011.17,0.00034],[2011.35,0.00017],[2011.51,0.00013],[2011.69,0.0],[2011.85,0.0],[2012.03,0.00021],[2012.19,0.00039],[2012.37,0.00043],[2012.53,0.00034],[2012.71,0.00026],[2012.87,0.0003],[2013.05,0.00039],[2013.21,0.00051],[2013.39,0.00064],[2013.55,0.00073],[2013.73,0.00069],[2013.89,0.00051],[2014.07,0.00039],[2014.23,0.00056],[2014.41,0.00088],[2014.57,0.00081],[2014.75,0.00077],[2014.91,0.00084],[2015.09,0.00094],[2015.2,0.00107],[2015.32,0.00081],[2015.48,0.00051],[2015.66,0.0003],[2015.82,0.00039],[2016.0,0.00041],[2016.15,0.00021],[2016.33,0.00013],[2016.49,-0.00009],[2016.66,-0.00004],[2016.85,0.00004],[2016.95,0.00009],[2017.17,0.00004],[2017.35,-0.0003]];

// ---------- STYLE / LAYOUT ----------
const styles = [
  { color: '#b41f2a', width: 1.3, type: 'solid' },
  { color: '#000000', width: 1.4, type: [5, 2.5] },
  { color: '#0a0aff', width: 1.4, type: [1.4, 1.8] },
  { color: '#3f662f', width: 1.3, type: [6.5, 2.2, 1.5, 2.2] }
];
const panels = [
  { grid: { left: 70, top: 9, width: 371, height: 228 }, xMin: 1992.36, xMax: 2017.97,
    yMin: -0.00375, yMax: 0.003, yTicks: yTicksA, yMinor: 0.0002, dec: 3,
    spine: '#333', spineW: 1.2, zero: '#444', nameGapY: 50, data: [aDAX, aDJIA, aIPC, aNIKKEI] },
  { grid: { left: 551.7, top: 8, width: 366.3, height: 229 }, xMin: 1993.23, xMax: 2017.59,
    yMin: -0.003, yMax: 0.00436, yTicks: yTicksB, yMinor: 0.0002, dec: 3,
    spine: '#777', spineW: 1.8, zero: '#666', nameGapY: 50, data: [bDAX, bDJIA, bIPC, bNIKKEI] },
  { grid: { left: 317.7, top: 358.3, width: 361.6, height: 224.4 }, xMin: 1993.19, xMax: 2017.76,
    yMin: -0.00132, yMax: 0.00156, yTicks: yTicksC, yMinor: 0.0001, dec: 4,
    spine: '#222', spineW: 1.2, zero: '#111', nameGapY: 57, data: [cDAX, cDJIA, cIPC, cNIKKEI] }
];
const captionPos = [[225, 305], [706, 305], [465, 650]];

const FONT = 'DejaVu Sans';
const grids = [], xAxes = [], yAxes = [], series = [];

function range(a, b, step) {
  const out = [];
  const n = Math.round((b - a) / step);
  for (let i = 0; i <= n; i++) out.push(+(a + i * step).toFixed(6));
  return out;
}

panels.forEach((p, g) => {
  grids.push(Object.assign({ containLabel: false }, p.grid));
  const yearTicks = range(Math.ceil(p.xMin), Math.floor(p.xMax), 1);
  const yMinorTicks = range(Math.ceil(p.yMin / p.yMinor - 1e-6) * p.yMinor, p.yMax, p.yMinor);
  const baseX = xAxes.length, baseY = yAxes.length;
  const tickLine = { color: p.spine, width: 1 };
  xAxes.push({
    type: 'value', gridIndex: g, position: 'bottom', min: p.xMin, max: p.xMax,
    axisLine: { show: true, onZero: false, lineStyle: { color: p.spine, width: p.spineW } },
    axisTick: { show: true, inside: true, length: 4.5, customValues: xMajorTicks, lineStyle: tickLine },
    axisLabel: { show: true, customValues: xMajorTicks, margin: 5, color: '#222', fontFamily: FONT, fontSize: 11,
                 formatter: v => String(Math.round(v)) },
    splitLine: { show: false },
    name: 'Date', nameLocation: 'middle', nameGap: 23,
    nameTextStyle: { fontFamily: FONT, fontSize: 13, color: '#222' }
  });
  xAxes.push({
    type: 'value', gridIndex: g, position: 'bottom', min: p.xMin, max: p.xMax,
    axisLine: { show: false, onZero: false }, axisLabel: { show: false }, splitLine: { show: false },
    axisTick: { show: true, inside: true, length: 2.5, customValues: yearTicks, lineStyle: tickLine }
  });
  xAxes.push({
    type: 'value', gridIndex: g, position: 'top', min: p.xMin, max: p.xMax,
    axisLine: { show: true, onZero: false, lineStyle: { color: p.spine, width: p.spineW } },
    axisLabel: { show: false }, splitLine: { show: false },
    axisTick: { show: true, inside: true, length: 4.5, customValues: xMajorTicks, lineStyle: tickLine }
  });
  xAxes.push({
    type: 'value', gridIndex: g, position: 'top', min: p.xMin, max: p.xMax,
    axisLine: { show: false, onZero: false }, axisLabel: { show: false }, splitLine: { show: false },
    axisTick: { show: true, inside: true, length: 2.5, customValues: yearTicks, lineStyle: tickLine }
  });
  yAxes.push({
    type: 'value', gridIndex: g, position: 'left', min: p.yMin, max: p.yMax,
    axisLine: { show: true, onZero: false, lineStyle: { color: p.spine, width: p.spineW } },
    axisTick: { show: true, inside: true, length: 4.5, customValues: p.yTicks, lineStyle: tickLine },
    axisLabel: { show: true, customValues: p.yTicks, margin: 4, color: '#222', fontFamily: FONT, fontSize: 11,
                 formatter: v => (Math.abs(v) < 1e-12 ? 0 : v).toFixed(p.dec).replace('-', '\u2212') },
    splitLine: { show: false },
    name: 'C', nameLocation: 'middle', nameGap: p.nameGapY, nameRotate: 90,
    nameTextStyle: { fontFamily: FONT, fontSize: 13, color: '#222' }
  });
  yAxes.push({
    type: 'value', gridIndex: g, position: 'left', min: p.yMin, max: p.yMax,
    axisLine: { show: false, onZero: false }, axisLabel: { show: false }, splitLine: { show: false },
    axisTick: { show: true, inside: true, length: 2.5, customValues: yMinorTicks, lineStyle: tickLine }
  });
  yAxes.push({
    type: 'value', gridIndex: g, position: 'right', min: p.yMin, max: p.yMax,
    axisLine: { show: true, onZero: false, lineStyle: { color: p.spine, width: p.spineW } },
    axisLabel: { show: false }, splitLine: { show: false },
    axisTick: { show: true, inside: true, length: 4.5, customValues: p.yTicks, lineStyle: tickLine }
  });
  yAxes.push({
    type: 'value', gridIndex: g, position: 'right', min: p.yMin, max: p.yMax,
    axisLine: { show: false, onZero: false }, axisLabel: { show: false }, splitLine: { show: false },
    axisTick: { show: true, inside: true, length: 2.5, customValues: yMinorTicks, lineStyle: tickLine }
  });

  p.data.forEach((d, i) => {
    const s = {
      type: 'line', name: seriesNames[i], xAxisIndex: baseX, yAxisIndex: baseY,
      data: d, symbol: 'none', showSymbol: false, smooth: false, clip: true,
      lineStyle: Object.assign({}, styles[i]), itemStyle: { color: styles[i].color },
      emphasis: { disabled: true }, z: 3 + i
    };
    if (i === 0) {
      s.markLine = {
        silent: true, symbol: 'none', label: { show: false },
        lineStyle: { color: p.zero, type: [4, 3], width: 1 },
        data: [{ yAxis: 0 }], z: 2
      };
    }
    series.push(s);
  });
});

const option = {
  backgroundColor: '#ffffff',
  animation: false,
  grid: grids,
  xAxis: xAxes,
  yAxis: yAxes,
  series: series,
  legend: {
    data: seriesNames, orient: 'vertical', left: 330, top: 154,
    itemWidth: 33, itemHeight: 10, itemGap: 8.5,
    padding: [8, 10, 8, 9],
    backgroundColor: '#ffffff', borderColor: '#444', borderWidth: 1.5, borderRadius: 0,
    itemStyle: { opacity: 0 },
    textStyle: { fontFamily: FONT, fontSize: 9.5, color: '#222' },
    selectedMode: false
  },
  graphic: captions.map((t, i) => ({
    type: 'text', x: captionPos[i][0], y: captionPos[i][1],
    style: { text: t, font: '22px "DejaVu Serif"', fill: '#111', textAlign: 'center', textVerticalAlign: 'middle' }
  }))
};

const chart = echarts.init(document.getElementById('chart'), null, { renderer: 'canvas' });
chart.setOption(option);
</script>
</body>
</html>
